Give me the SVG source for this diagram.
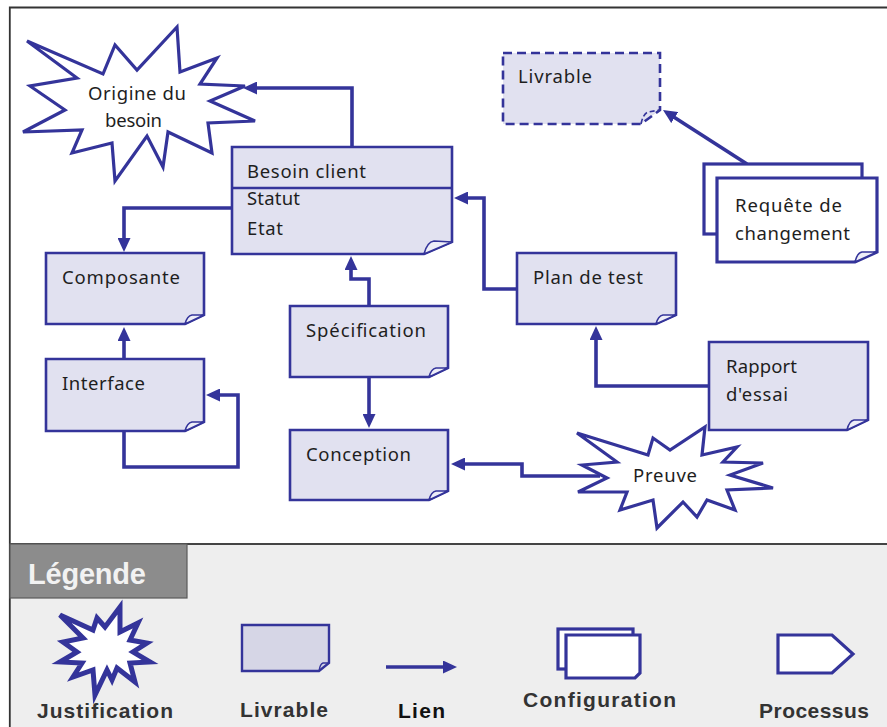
<svg xmlns="http://www.w3.org/2000/svg" width="887" height="727" viewBox="0 0 887 727">
<defs>
<style>
.box{fill:#e1e1f0;stroke:#34349a;stroke-width:2.6;stroke-linejoin:miter}
.fold{fill:#eeeef8;stroke:#34349a;stroke-width:1.6;stroke-linejoin:round}
.wbox{fill:#ffffff;stroke:#34349a;stroke-width:3.2}
.star{fill:#ffffff;stroke:#34349a;stroke-width:3.2;stroke-linejoin:miter}
.conn{fill:none;stroke:#34349a;stroke-width:3.6;marker-end:url(#ah)}
.t{font-family:"Noto Sans","DejaVu Sans",sans-serif;font-size:18.5px;fill:#1e1e1e}
.lg{font-family:"Liberation Sans",Arial,sans-serif;font-size:21px;font-weight:bold;fill:#333333}
</style>
<marker id="ah" markerUnits="userSpaceOnUse" markerWidth="14" markerHeight="13" viewBox="0 0 14 13" refX="4" refY="6.5" orient="auto">
<path d="M0,0 L14,6.5 L0,13 z" fill="#34349a"/>
</marker>
</defs>
<rect x="0" y="0" width="887" height="727" fill="#ffffff"/>
<rect x="10" y="544" width="877" height="183" fill="#eeeeee"/>
<path d="M887,7.5 H9.8 V727" fill="none" stroke="#333333" stroke-width="1.8"/>
<line x1="10" y1="544" x2="887" y2="544" stroke="#444444" stroke-width="1.8"/>

<g id="connectors">
<path class="conn" d="M352,147 V88 H253"/>
<path class="conn" d="M232,208 H124 V242"/>
<path class="conn" d="M124,359 V337"/>
<path class="conn" d="M124,431 V467 H238 V395 H216"/>
<path class="conn" d="M369,306 V279 H351 V266"/>
<path class="conn" d="M369,377 V418"/>
<path class="conn" d="M517,289 H484 V198 H464"/>
<path class="conn" d="M709,386 H596 V336"/>
<path class="conn" d="M600,476 H522 V464 H461"/>
<path class="conn" d="M747,164 L671.4,115.4"/>
</g>

<g id="origine">
<polygon class="star" points="27,41 103,74 115,45 137,70 177,27 180,72 217,58 200,84 245,86 210,101 255,121 208,123 212,153 168,132 163,167 147,136 115,181 112,143 72,153 82,130 23,132 65,110 30,86 77,78"/>
<text class="t" x="88" y="100" textLength="98">Origine du</text>
<text class="t" x="105" y="127" textLength="57">besoin</text>
</g>

<g id="besoin-client">
<path class="box" d="M232,147 H452 V242 L424,254 H232 Z"/>
<line x1="232" y1="188" x2="452" y2="188" stroke="#34349a" stroke-width="2.6"/>
<path class="fold" d="M424,254 Q427,242 434,241 L452,242 Z"/>
<text class="t" x="247" y="178" textLength="119">Besoin client</text>
<text class="t" x="247" y="205" textLength="53">Statut</text>
<text class="t" x="247" y="235" textLength="36">Etat</text>
</g>

<g id="composante">
<path class="box" d="M46,253 H204 V315 L185,324 H46 Z"/>
<path class="fold" d="M185,324 Q187,316 192,315 L204,315 Z"/>
<text class="t" x="62" y="284" textLength="118">Composante</text>
</g>

<g id="interface">
<path class="box" d="M46,359 H204 V422 L185,431 H46 Z"/>
<path class="fold" d="M185,431 Q187,423 192,422 L204,422 Z"/>
<text class="t" x="62" y="390" textLength="83">Interface</text>
</g>

<g id="specification">
<path class="box" d="M290,306 H448 V368 L429,377 H290 Z"/>
<path class="fold" d="M429,377 Q431,369 436,368 L448,368 Z"/>
<text class="t" x="306" y="337" textLength="120">Spécification</text>
</g>

<g id="conception">
<path class="box" d="M290,430 H448 V491 L429,500 H290 Z"/>
<path class="fold" d="M429,500 Q431,492 436,491 L448,491 Z"/>
<text class="t" x="306" y="461" textLength="105">Conception</text>
</g>

<g id="plan-de-test">
<path class="box" d="M517,253 H676 V315 L656,324 H517 Z"/>
<path class="fold" d="M656,324 Q658,316 663,315 L676,315 Z"/>
<text class="t" x="533" y="284" textLength="110">Plan de test</text>
</g>

<g id="rapport">
<path class="box" d="M709,342 H868 V420 L847,430 H709 Z"/>
<path class="fold" d="M847,430 Q849,421 854,420 L868,420 Z"/>
<text class="t" x="726" y="373" textLength="71">Rapport</text>
<text class="t" x="726" y="401" textLength="62">d'essai</text>
</g>

<g id="preuve">
<polygon class="star" points="577,433 648,455 653,438 670,450 705,427 702,455 737,447 723,462 763,463 730,475 773,488 727,490 735,510 707,500 697,517 683,502 657,528 653,500 620,510 627,492 578,492 607,478 582,465 617,462"/>
<text class="t" x="633" y="482" textLength="64">Preuve</text>
</g>

<g id="livrable-top">
<path d="M503,53 H660 V110 L641,124 H503 Z" fill="#e1e1f0" stroke="#34349a" stroke-width="2.6" stroke-dasharray="9 5"/>
<path d="M641,124 Q643,114 648,112 L660,110" fill="none" stroke="#34349a" stroke-width="1.6" stroke-dasharray="5 3"/>
<text class="t" x="518" y="83" textLength="74">Livrable</text>
</g>

<g id="requete">
<rect class="wbox" x="704" y="164" width="158" height="70"/>
<path class="wbox" d="M717,178 H877 V252 L855,262 H717 Z"/>
<path class="fold" d="M855,262 Q857,253 862,252 L877,252 Z"/>
<text class="t" x="735" y="212" textLength="107">Requête de</text>
<text class="t" x="735" y="240" textLength="115">changement</text>
</g>

<g id="legende">
<rect x="10" y="544" width="177" height="54" fill="#8c8c8c" stroke="#5a5a5a" stroke-width="1.2"/>
<text x="28" y="584" font-family="Liberation Sans,Arial,sans-serif" font-size="29" font-weight="bold" fill="#f2f2f2" textLength="118">Légende</text>

<polygon points="60,615 93,630 97,618 105,627 120,607 120,632 138,623 130,640 147,643 133,652 150,662 130,663 135,682 117,668 112,680 107,670 95,695 93,670 73,677 82,663 60,662 77,652 63,642 83,638" fill="#ffffff" stroke="#34349a" stroke-width="5" stroke-linejoin="miter"/>
<text class="lg" x="37" y="718" textLength="136">Justification</text>

<path d="M242,625 H329 V663 L319,671 H242 Z" fill="#d6d6e6" stroke="#34349a" stroke-width="2.4"/>
<path d="M319,671 Q320,664 323,663 L329,663" fill="none" stroke="#34349a" stroke-width="1.4"/>
<text class="lg" x="240" y="717" textLength="88">Livrable</text>

<path class="conn" d="M386,667 H447"/>
<text class="lg" x="398" y="718" textLength="47" style="fill:#111111">Lien</text>

<rect x="558" y="629" width="75" height="40" fill="#ffffff" stroke="#34349a" stroke-width="3.2"/>
<path d="M566,635 H640 V673 L635,678 H566 Z" fill="#ffffff" stroke="#34349a" stroke-width="3.2"/>
<text class="lg" x="523" y="707" textLength="153">Configuration</text>

<path d="M778,635 H832 L853,654 L832,673 H778 Z" fill="#ffffff" stroke="#34349a" stroke-width="3.2"/>
<text class="lg" x="759" y="718" textLength="110">Processus</text>
</g>
</svg>
